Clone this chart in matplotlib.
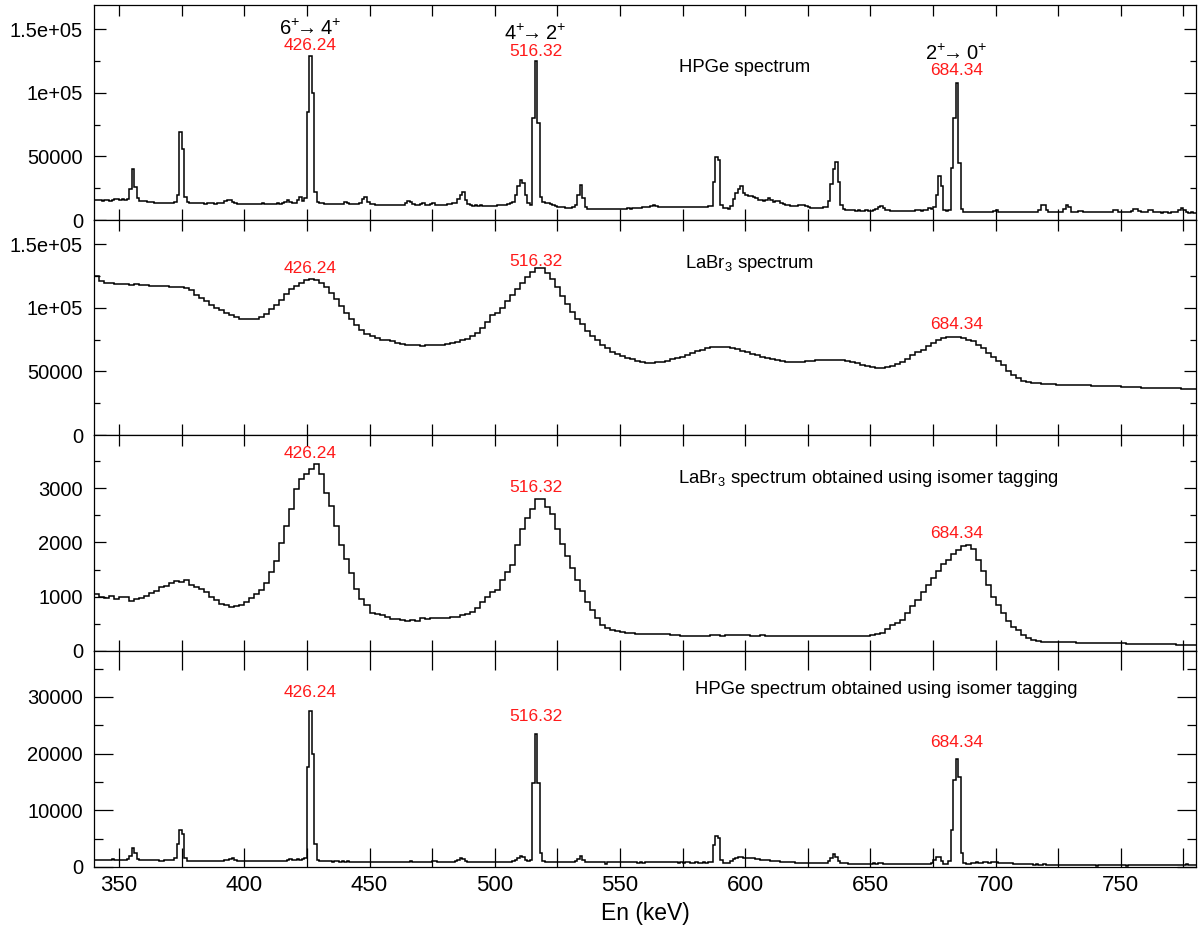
import numpy as np
import matplotlib as mpl
mpl.use('Agg')
import matplotlib.pyplot as plt
from matplotlib.ticker import MultipleLocator, FixedLocator, FixedFormatter

plt.rcParams['font.family'] = ['Liberation Sans', 'DejaVu Sans']
plt.rcParams['mathtext.fontset'] = 'custom'
plt.rcParams['mathtext.rm'] = 'Liberation Sans'
plt.rcParams['mathtext.it'] = 'Liberation Sans:italic'
plt.rcParams['mathtext.bf'] = 'Liberation Sans:bold'

# HPGe singles, 1 keV bins starting at 340 keV, counts / 1000
hpge_singles = [
    15.8, 15.5, 15.6, 15.2, 15.9, 15.4, 15.3, 15.6, 16.2, 16.8,
    16.0, 16.6, 15.8, 16.5, 24.0, 39.7, 26.0, 17.0, 15.2, 15.0,
    14.8, 14.5, 14.2, 13.8, 13.7, 13.5, 13.6, 13.4, 13.5, 13.3,
    13.4, 13.2, 14.0, 20.0, 69.2, 56.0, 18.0, 13.8, 13.2, 13.0,
    13.1, 13.0, 13.2, 13.0, 12.9, 13.1, 13.0, 13.0, 12.8, 13.0,
    13.0, 13.2, 14.8, 15.5, 15.8, 14.5, 13.0, 12.9, 12.8, 12.7,
    12.8, 12.7, 12.9, 12.8, 12.7, 12.6, 12.8, 13.4, 12.9, 12.7,
    12.8, 12.7, 12.9, 13.0, 12.8, 13.5, 14.2, 15.5, 14.0, 13.2,
    13.5, 15.8, 17.9, 15.0, 17.0, 85.0, 128.9, 100.0, 22.0, 14.0,
    13.5, 13.0, 12.6, 12.5, 12.4, 12.5, 12.3, 12.4, 12.5, 12.6,
    13.8, 13.0, 12.3, 12.2, 12.4, 12.6, 13.5, 16.5, 17.9, 14.0,
    12.5, 12.2, 12.0, 12.1, 11.9, 12.0, 12.1, 11.8, 12.0, 11.9,
    12.0, 11.8, 12.1, 12.0, 13.2, 15.0, 14.3, 12.6, 12.0, 11.8,
    12.2, 13.5, 12.0, 11.8, 12.5, 13.0, 12.1, 11.7, 11.9, 12.0,
    12.0, 12.3, 12.8, 13.0, 13.0, 16.5, 20.0, 21.8, 15.5, 12.5,
    11.5, 11.3, 11.4, 11.2, 11.5, 11.3, 11.2, 11.0, 11.3, 11.1,
    11.3, 11.5, 11.6, 11.8, 12.0, 12.4, 13.0, 14.5, 20.0, 27.0,
    31.6, 29.0, 20.0, 13.0, 12.0, 80.0, 125.2, 76.0, 18.0, 14.0,
    13.0, 13.2, 12.8, 11.5, 11.0, 10.5, 10.0, 10.2, 9.8, 9.6,
    9.8, 10.0, 12.0, 20.0, 27.9, 17.0, 10.0, 9.0, 8.8, 9.0,
    8.8, 8.7, 9.0, 8.9, 8.8, 8.7, 8.9, 9.0, 8.8, 8.7,
    8.8, 8.9, 9.0, 9.2, 9.0, 9.1, 9.3, 9.5, 9.8, 10.0,
    10.3, 10.5, 11.0, 11.5, 10.8, 10.4, 10.3, 10.4, 10.2, 10.3,
    10.4, 10.2, 10.3, 10.5, 10.1, 10.2, 10.0, 10.3, 10.1, 10.0,
    10.2, 10.0, 10.1, 10.3, 10.5, 10.8, 11.0, 30.0, 49.4, 47.0,
    12.0, 9.3, 9.2, 9.0, 11.0, 16.5, 21.0, 24.0, 26.6, 21.0,
    19.5, 19.0, 18.5, 18.0, 17.0, 16.0, 15.5, 15.0, 16.0, 17.4,
    16.0, 14.5, 14.8, 15.3, 13.5, 12.5, 11.8, 11.5, 11.2, 11.0,
    11.2, 11.6, 12.1, 12.0, 11.0, 10.0, 9.8, 9.6, 9.8, 9.7,
    9.8, 10.0, 10.5, 15.0, 28.0, 40.0, 45.5, 30.0, 12.0, 9.0,
    8.0, 7.8, 7.5, 7.6, 7.4, 7.5, 7.3, 7.4, 7.5, 7.3,
    7.4, 7.6, 8.5, 10.0, 11.0, 9.5, 7.8, 7.5, 7.3, 7.2,
    7.3, 7.1, 7.2, 7.0, 7.3, 7.4, 7.1, 7.3, 8.0, 7.5,
    7.4, 7.5, 8.2, 9.5, 8.5, 10.0, 20.0, 34.5, 27.0, 7.5,
    7.0, 7.5, 41.0, 80.0, 107.3, 45.0, 9.0, 6.5, 6.3, 6.2,
    6.2, 6.3, 6.1, 6.0, 6.2, 6.1, 6.0, 6.3, 6.2, 6.8,
    7.5, 6.5, 6.0, 6.1, 6.0, 5.9, 6.0, 6.1, 5.9, 6.0,
    6.0, 5.9, 6.1, 6.0, 6.0, 6.2, 6.5, 8.0, 11.5, 12.1,
    8.0, 6.0, 5.9, 6.0, 6.1, 6.0, 6.5, 8.5, 12.1, 10.0,
    6.5, 6.2, 6.0, 7.0, 7.4, 6.3, 6.0, 5.9, 6.0, 6.1,
    6.0, 6.1, 5.9, 6.0, 6.2, 6.0, 6.5, 7.5, 8.0, 6.5,
    6.0, 5.9, 6.0, 6.2, 7.0, 8.5, 9.0, 7.0, 6.0, 5.9,
    6.5, 7.5, 7.8, 6.5, 6.0, 5.9, 5.8, 6.0, 5.9, 5.8,
    5.9, 6.0, 6.2, 8.0, 9.5, 7.5, 6.0, 5.8, 5.9, 5.8,
]

# LaBr3 singles, 2 keV bins starting at 340 keV, counts / 1000
labr_singles = [
    125.0, 121.0, 119.8, 119.5, 119.0, 118.8, 118.6, 118.2, 118.5, 118.0,
    117.8, 117.5, 117.2, 117.0, 116.8, 116.5, 116.2, 116.0, 115.5, 114.0,
    110.0, 107.5, 105.0, 102.5, 100.0, 98.0, 96.0, 94.0, 92.5, 91.5,
    91.0, 90.8, 91.0, 92.4, 95.0, 98.8, 102.5, 106.5, 110.5, 115.0,
    117.5, 119.8, 121.8, 122.5, 121.8, 119.8, 116.5, 112.0, 107.0, 101.5,
    96.0, 90.9, 86.5, 82.5, 79.5, 77.5, 76.0, 75.0, 74.5, 73.5,
    72.5, 71.5, 71.0, 70.7, 70.5, 70.3, 70.4, 70.5, 70.6, 71.0,
    71.5, 72.0, 73.0, 74.5, 75.5, 77.5, 80.0, 84.5, 89.0, 94.0,
    96.0, 100.0, 105.0, 110.0, 114.5, 119.5, 124.5, 128.5, 131.5, 131.5,
    127.5, 122.5, 116.0, 109.5, 102.7, 97.0, 91.5, 86.9, 82.0, 78.0,
    74.5, 71.1, 68.0, 65.5, 63.5, 62.0, 60.8, 59.5, 58.5, 57.5,
    56.9, 56.8, 57.0, 57.7, 58.5, 59.5, 60.5, 61.6, 63.0, 64.5,
    66.0, 67.1, 68.0, 68.8, 69.3, 69.5, 69.2, 68.5, 67.5, 66.2,
    65.0, 63.8, 62.6, 61.6, 60.5, 59.5, 58.6, 58.0, 57.7, 57.5,
    57.6, 57.7, 58.0, 58.5, 59.0, 59.2, 59.3, 59.3, 59.2, 59.2,
    58.5, 57.5, 56.5, 55.3, 54.3, 53.5, 53.0, 52.9, 53.2, 54.5,
    56.0, 57.7, 60.0, 62.5, 65.0, 67.1, 70.0, 72.5, 74.8, 76.3,
    77.0, 77.4, 77.2, 76.5, 75.0, 73.5, 71.0, 68.0, 64.5, 61.0,
    58.0, 55.0, 50.5, 47.0, 44.5, 42.8, 41.6, 41.0, 40.5, 40.2,
    40.0, 39.8, 39.6, 39.5, 39.5, 39.3, 39.2, 39.1, 39.0, 38.9,
    38.8, 38.7, 38.5, 38.4, 38.2, 38.0, 37.8, 37.7, 37.5, 37.3,
    37.2, 37.1, 37.0, 36.9, 36.8, 36.7, 36.6, 36.5, 36.4, 36.3,
]

# LaBr3 gated on the isomer, 2 keV bins starting at 340 keV, counts
labr_tagged = [
    1050, 1000, 980, 1010, 960, 1000, 990, 930, 960, 975,
    1010, 1065, 1110, 1188, 1200, 1250, 1281, 1270, 1300, 1219,
    1180, 1139, 1080, 1003, 940, 867, 840, 818, 830, 849,
    910, 972, 1050, 1127, 1250, 1450, 1650, 1991, 2300, 2609,
    2979, 3164, 3257, 3349, 3454, 3257, 2917, 2670, 2300, 1950,
    1700, 1436, 1150, 950, 850, 695, 680, 664, 620, 584,
    590, 570, 559, 580, 560, 602, 590, 610, 602, 600,
    615, 625, 633, 660, 690, 726, 800, 900, 1003, 1080,
    1130, 1300, 1450, 1593, 1950, 2240, 2450, 2611, 2800, 2796,
    2650, 2518, 2250, 1963, 1750, 1530, 1315, 1100, 900, 759,
    600, 481, 420, 390, 370, 352, 340, 330, 320, 318,
    315, 310, 320, 305, 315, 300, 290, 285, 280, 278,
    275, 270, 285, 290, 300, 280, 295, 300, 290, 296,
    290, 285, 280, 290, 278, 280, 285, 275, 280, 278,
    270, 275, 280, 272, 278, 275, 280, 270, 278, 275,
    280, 270, 275, 278, 280, 290, 310, 333, 400, 470,
    520, 574, 700, 820, 944, 1080, 1220, 1352, 1480, 1600,
    1685, 1780, 1870, 1930, 1950, 1880, 1685, 1480, 1222, 1000,
    850, 700, 560, 450, 389, 300, 240, 204, 180, 170,
    167, 165, 160, 162, 158, 160, 155, 152, 150, 148,
    150, 148, 145, 143, 140, 142, 138, 135, 136, 132,
    130, 128, 127, 125, 123, 120, 118, 115, 113, 111,
]

# HPGe gated on the isomer, 1 keV bins starting at 340 keV, counts / 1000
hpge_tagged = [
    1.25, 1.22, 1.26, 1.20, 1.24, 1.22, 1.25, 1.40, 1.28, 1.22,
    1.25, 1.30, 1.28, 1.35, 2.00, 3.40, 2.40, 1.40, 1.25, 1.22,
    1.20, 1.22, 1.18, 1.20, 1.15, 1.18, 1.05, 1.10, 1.20, 1.15,
    1.18, 1.25, 1.50, 4.00, 6.45, 5.80, 1.60, 1.10, 1.05, 1.08,
    1.10, 1.08, 1.12, 1.10, 1.08, 1.10, 1.12, 1.10, 1.08, 1.10,
    1.10, 1.12, 1.20, 1.30, 1.45, 1.50, 1.25, 1.10, 1.08, 1.10,
    1.08, 1.10, 1.07, 1.09, 1.10, 1.08, 1.06, 1.08, 1.07, 1.09,
    1.08, 1.07, 1.09, 1.10, 1.08, 1.07, 1.12, 1.25, 1.35, 1.20,
    1.25, 1.45, 1.30, 1.40, 1.60, 17.7, 27.5, 20.0, 4.00, 1.30,
    1.10, 1.05, 1.00, 0.98, 1.00, 0.95, 0.98, 1.00, 0.90, 0.98,
    0.95, 0.98, 0.92, 0.96, 0.95, 0.97, 0.93, 0.95, 0.96, 0.94,
    0.93, 0.95, 0.92, 0.94, 0.93, 0.92, 0.94, 0.93, 0.92, 0.91,
    0.92, 0.93, 0.91, 0.92, 0.90, 0.92, 1.05, 0.92, 0.90, 0.91,
    0.90, 0.92, 0.91, 0.90, 0.92, 1.10, 1.05, 0.90, 0.89, 0.90,
    0.88, 0.90, 0.89, 0.90, 1.00, 1.30, 1.55, 1.45, 1.10, 0.90,
    0.88, 0.85, 0.87, 0.86, 0.85, 0.87, 0.86, 0.85, 0.84, 0.86,
    0.85, 0.86, 0.84, 0.90, 0.85, 0.95, 0.90, 1.00, 1.20, 1.60,
    1.90, 1.80, 1.30, 1.10, 1.30, 14.8, 23.4, 14.8, 2.50, 1.10,
    0.95, 0.90, 0.88, 0.85, 0.86, 0.84, 0.85, 0.83, 0.84, 0.82,
    0.84, 0.85, 1.00, 1.40, 1.90, 1.30, 0.88, 0.84, 0.82, 0.83,
    0.82, 0.84, 0.83, 0.82, 0.60, 0.82, 0.83, 0.84, 0.82, 0.81,
    0.80, 0.82, 0.81, 0.80, 0.82, 0.81, 0.80, 0.78, 0.80, 0.79,
    0.80, 0.82, 0.95, 0.85, 0.80, 0.82, 0.95, 0.85, 0.92, 0.80,
    0.95, 0.82, 0.80, 0.78, 0.80, 0.79, 0.81, 0.80, 0.79, 0.78,
    0.80, 0.78, 0.79, 0.80, 0.78, 0.80, 0.85, 3.80, 5.40, 5.20,
    1.20, 0.70, 0.68, 0.70, 1.00, 1.40, 1.65, 1.75, 1.72, 1.60,
    1.65, 1.60, 1.55, 1.50, 1.40, 1.35, 1.30, 1.25, 1.20, 1.15,
    1.10, 1.05, 1.00, 0.98, 0.95, 0.90, 0.88, 0.85, 0.82, 0.80,
    0.78, 0.76, 0.75, 0.74, 0.75, 0.72, 0.70, 0.72, 0.70, 0.71,
    0.70, 0.72, 0.75, 1.00, 1.60, 2.30, 1.80, 1.00, 0.72, 0.65,
    0.62, 0.60, 0.61, 0.60, 0.59, 0.60, 0.58, 0.60, 0.59, 0.58,
    0.60, 0.62, 0.58, 0.75, 0.72, 0.60, 0.58, 0.59, 0.58, 0.57,
    0.58, 0.57, 0.59, 0.58, 0.57, 0.58, 0.56, 0.58, 0.57, 0.56,
    0.57, 0.58, 0.56, 0.60, 0.62, 1.20, 1.75, 1.70, 1.00, 0.60,
    0.58, 1.00, 6.50, 15.3, 19.0, 15.9, 2.45, 0.70, 0.55, 0.60,
    0.75, 0.78, 0.80, 0.76, 0.78, 0.80, 0.82, 0.78, 0.80, 0.85,
    0.80, 0.75, 0.72, 0.70, 0.68, 0.65, 0.62, 0.60, 0.58, 0.55,
    0.50, 0.48, 0.47, 0.46, 0.45, 0.44, 0.45, 0.44, 0.43, 0.50,
    0.44, 0.43, 0.42, 0.43, 0.42, 0.41, 0.42, 0.40, 0.41, 0.40,
    0.40, 0.39, 0.40, 0.39, 0.38, 0.39, 0.38, 0.40, 0.38, 0.37,
    0.25, 0.38, 0.37, 0.38, 0.36, 0.35, 0.37, 0.36, 0.28, 0.37,
    0.36, 0.35, 0.25, 0.36, 0.35, 0.34, 0.35, 0.36, 0.34, 0.33,
    0.34, 0.33, 0.34, 0.42, 0.33, 0.32, 0.33, 0.34, 0.32, 0.33,
    0.32, 0.33, 0.31, 0.32, 0.33, 0.32, 0.50, 0.33, 0.30, 0.31,
]

peak_kev = [426.24, 516.32, 684.34]
transitions = [r"6$^{+}\!\!\rightarrow\!\!$ 4$^{+}$", r"4$^{+}\!\!\rightarrow\!\!$ 2$^{+}$",
               r"2$^{+}\!\!\rightarrow\!\!$ 0$^{+}$"]

# label heights (baseline, in data units of each panel)
hpge_label_y = [133300, 128900, 114000]
hpge_trans_y = [145800, 141100, 125500]
labr_label_y = [127200, 132500, 83700]
labr_tag_label_y = [3550, 2926, 2074]
hpge_tag_label_y = [30030, 25750, 21100]

E0 = 340

def edges(n, w):
    return E0 + w * np.arange(n + 1)

fig = plt.figure(figsize=(12.01, 9.26), dpi=100)
left, right = 94 / 1201., 1196 / 1201.
rows = [5, 220, 435, 651, 867]
axes = []
for i in range(4):
    top = 1 - rows[i] / 926.
    bot = 1 - rows[i + 1] / 926.
    axes.append(fig.add_axes([left, bot, right - left, top - bot]))

spectra = [
    (np.array(hpge_singles) * 1000, 1),
    (np.array(labr_singles) * 1000, 2),
    (np.array(labr_tagged, dtype=float), 2),
    (np.array(hpge_tagged) * 1000, 1),
]
ylims = [169000, 169000, 3980, 38100]
yticks = [[0, 50000, 100000, 150000], [0, 50000, 100000, 150000],
          [0, 1000, 2000, 3000], [0, 10000, 20000, 30000]]
ylabels = [['0', '50000', '1e+05', '1.5e+05'], ['0', '50000', '1e+05', '1.5e+05'],
           ['0', '1000', '2000', '3000'], ['0', '10000', '20000', '30000']]
yminor = [25000, 25000, 500, 5000]
titles = [("HPGe spectrum", 679, 0.707),
          (r"LaBr$_3$ spectrum", 685, 0.80),
          (r"LaBr$_3$ spectrum obtained using isomer tagging", 678, 0.80),
          ("HPGe spectrum obtained using isomer tagging", 695, 0.82)]
red_y = [hpge_label_y, labr_label_y, labr_tag_label_y, hpge_tag_label_y]

for i, ax in enumerate(axes):
    counts, w = spectra[i]
    ax.stairs(counts, edges(len(counts), w), color='black', lw=1.1, baseline=None)
    ax.set_xlim(340, 780)
    ax.set_ylim(0, ylims[i])
    ax.xaxis.set_major_locator(MultipleLocator(50))
    ax.xaxis.set_minor_locator(MultipleLocator(25))
    ax.yaxis.set_major_locator(FixedLocator(yticks[i]))
    ax.yaxis.set_major_formatter(FixedFormatter(ylabels[i]))
    ax.yaxis.set_minor_locator(MultipleLocator(yminor[i]))
    big = (i == 3)
    xl = 13.7 if big else 8.0
    ax.tick_params(axis='x', which='both', direction='in', top=True, bottom=True,
                   length=xl, width=0.9, labelsize=16, pad=6)
    ax.tick_params(axis='y', which='major', direction='in', left=True, right=True,
                   length=13.7 if big else 8.6, width=0.9, labelsize=14.5, pad=8)
    ax.tick_params(axis='y', which='minor', direction='in', left=True, right=True,
                   length=6.5 if big else 4.3, width=0.9)
    if not big:
        ax.tick_params(axis='x', labelbottom=False)
    for s in ax.spines.values():
        s.set_linewidth(0.9)

    name, xpx, fy = titles[i]
    ax.text((xpx - 94) / 1102., fy, name, transform=ax.transAxes,
            ha='left', va='center', fontsize=13.3)

    for k, e in enumerate(peak_kev):
        ax.text(e, red_y[i][k], "%.2f" % e, color='#ff1a1a', fontsize=12.5,
                ha='center', va='baseline')

for k, e in enumerate(peak_kev):
    axes[0].text(e, hpge_trans_y[k], transitions[k], fontsize=14.5,
                 ha='center', va='baseline')

axes[3].set_xlabel("En (keV)", fontsize=16.5, labelpad=4)

fig.savefig("out.png", dpi=100)
